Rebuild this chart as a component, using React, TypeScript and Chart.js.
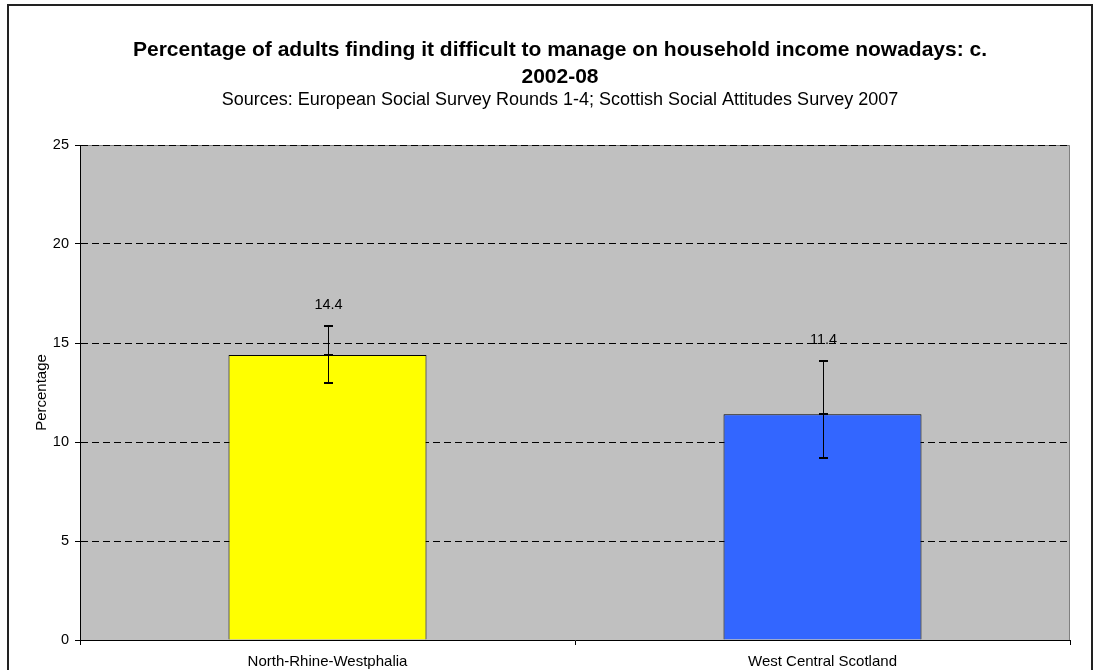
import React, { useEffect, useRef } from "react";
import { Chart, registerables } from "chart.js";

Chart.register(...registerables);

const categories = ["North-Rhine-Westphalia", "West Central Scotland"];
const values = [14.4, 11.4];
const errHigh = [15.85, 14.1];
const errLow = [12.97, 9.2];
const barColors = ["#FFFF00", "#3366FF"];
const yTicks = [0, 5, 10, 15, 20, 25];
const titleLines = [
  "Percentage of adults finding it difficult to manage on household income nowadays: c.",
  "2002-08",
];
const subtitleText = "Sources: European Social Survey Rounds 1-4; Scottish Social Attitudes Survey 2007";
const yTitle = "Percentage";

const FONT = '"Liberation Sans", Arial, sans-serif';

const framePlugin = {
  id: "framePlugin",
  beforeDraw(chart: any) {
    const { ctx, chartArea } = chart;
    ctx.save();
    ctx.fillStyle = "#FFFFFF";
    ctx.fillRect(0, 0, chart.width, chart.height);
    // outer frame
    ctx.strokeStyle = "#222222";
    ctx.lineWidth = 2;
    ctx.strokeRect(8, 5, 1084, 720);
    // plot area background
    const { left, top, right, bottom } = chartArea;
    ctx.fillStyle = "#C0C0C0";
    ctx.fillRect(left, top, right - left, bottom - top);
    ctx.strokeStyle = "#808080";
    ctx.lineWidth = 1;
    ctx.beginPath();
    ctx.moveTo(left, top + 0.5);
    ctx.lineTo(right - 0.5, top + 0.5);
    ctx.lineTo(right - 0.5, bottom);
    ctx.stroke();
    ctx.restore();
  },
  afterDraw(chart: any) {
    const { ctx } = chart;
    ctx.save();
    ctx.fillStyle = "#000000";
    ctx.textAlign = "center";
    ctx.textBaseline = "middle";
    ctx.font = `bold 21px ${FONT}`;
    ctx.fillText(titleLines[0], 560, 50);
    ctx.fillText(titleLines[1], 560, 77);
    ctx.font = `18px ${FONT}`;
    ctx.fillText(subtitleText, 560, 100);
    ctx.restore();
  },
};

const errorBarPlugin = {
  id: "errorBarPlugin",
  afterDatasetsDraw(chart: any) {
    const { ctx } = chart;
    const meta = chart.getDatasetMeta(0);
    const yScale = chart.scales.y;
    ctx.save();
    meta.data.forEach((bar: any, i: number) => {
      const x = Math.round(bar.x) + 0.5;
      const yH = yScale.getPixelForValue(errHigh[i]);
      const yL = yScale.getPixelForValue(errLow[i]);
      const yV = yScale.getPixelForValue(values[i]);
      ctx.strokeStyle = "#000000";
      ctx.lineWidth = 1;
      ctx.beginPath();
      ctx.moveTo(x, yH);
      ctx.lineTo(x, yL);
      ctx.stroke();
      ctx.lineWidth = 2;
      [yH, yL, yV].forEach((yy) => {
        ctx.beginPath();
        ctx.moveTo(x - 4.5, Math.round(yy));
        ctx.lineTo(x + 4.5, Math.round(yy));
        ctx.stroke();
      });
      // data label
      ctx.fillStyle = "#000000";
      ctx.font = `14.5px ${FONT}`;
      ctx.textAlign = "center";
      ctx.textBaseline = "middle";
      ctx.fillText(values[i].toFixed(1), x, yH - 21);
    });
    ctx.restore();
  },
};

export default function App() {
  const canvasRef = useRef<HTMLCanvasElement | null>(null);

  useEffect(() => {
    if (!canvasRef.current) return;
    const chart = new Chart(canvasRef.current, {
      type: "bar",
      data: {
        labels: categories,
        datasets: [
          {
            data: values,
            backgroundColor: barColors,
            borderColor: "#000000",
            borderWidth: 1,
            barPercentage: 0.4,
            categoryPercentage: 1.0,
          },
        ],
      },
      options: {
        responsive: false,
        animation: false,
        devicePixelRatio: 1,
        layout: { padding: { top: 145, right: 25, left: 0, bottom: 0 } },
        plugins: {
          legend: { display: false },
          tooltip: { enabled: false },
          title: { display: false },
        },
        scales: {
          x: {
            type: "category",
            offset: true,
            grid: {
              display: true,
              drawOnChartArea: false,
              drawTicks: true,
              tickLength: 5,
              color: "#000000",
              offset: true,
            },
            border: { display: true, color: "#000000", width: 1 },
            ticks: {
              color: "#000000",
              font: { size: 15, family: FONT },
              padding: 8,
              maxRotation: 0,
              autoSkip: false,
            },
            afterFit: (s: any) => {
              s.height = 30;
            },
          },
          y: {
            min: 0,
            max: 25,
            afterBuildTicks: (s: any) => {
              s.ticks = yTicks.map((v) => ({ value: v }));
            },
            grid: {
              display: true,
              color: "#000000",
              lineWidth: 1,
              drawTicks: true,
              tickLength: 5,
              tickColor: "#000000",
            },
            border: { display: true, color: "#000000", width: 1, dash: [7, 4] },
            ticks: {
              color: "#000000",
              font: { size: 14.5, family: FONT },
              padding: 6,
            },
            title: {
              display: true,
              text: yTitle,
              color: "#000000",
              font: { size: 15, family: FONT },
              padding: { top: 33, bottom: 0 },
            },
            afterFit: (s: any) => {
              s.width = 80;
            },
          },
        },
      },
      plugins: [framePlugin, errorBarPlugin],
    });
    return () => chart.destroy();
  }, []);

  return (
    <div style={{ position: "fixed", left: 0, top: 0, width: 1095, height: 670 }}>
      <canvas ref={canvasRef} width={1095} height={670} style={{ display: "block" }} />
    </div>
  );
}
